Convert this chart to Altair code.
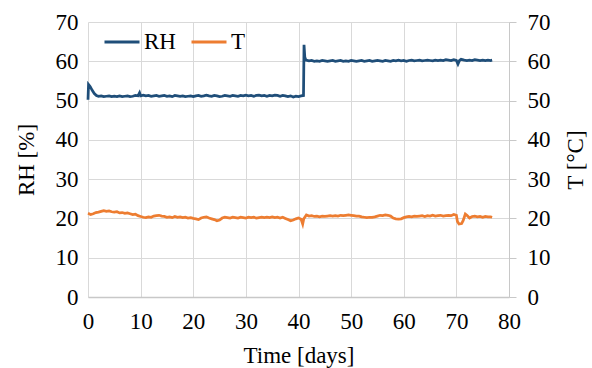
import altair as alt
import pandas as pd

rh_days = [0, 0.1, 0.4, 0.8, 1.2, 1.6, 2.0, 2.5, 3.0, 3.5, 4.0, 4.5, 5.0, 5.5, 6.0, 6.5, 7.0, 7.5, 8.0, 8.5,
           9.0, 9.5, 9.8, 10.0, 10.5, 11, 11.5, 12, 12.5, 13, 13.5, 14, 14.5, 15, 15.5, 16, 16.5, 17, 17.5, 18,
           18.5, 19, 19.5, 20, 20.5, 21, 21.5, 22, 22.5, 23, 23.5, 24, 24.5, 25, 25.5, 26, 26.5, 27, 27.5, 28,
           28.5, 29, 29.5, 30, 30.5, 31, 31.5, 32, 32.5, 33, 33.5, 34, 34.5, 35, 35.5, 36, 36.5, 37, 37.5, 38,
           38.5, 39, 39.5, 40, 40.5, 40.95, 41.05, 41.2, 41.4, 42, 42.5, 43, 43.5, 44, 44.5, 45, 45.5, 46, 46.5,
           47, 47.5, 48, 48.5, 49, 49.5, 50, 50.5, 51, 51.5, 52, 52.5, 53, 53.5, 54, 54.5, 55, 55.5, 56, 56.5,
           57, 57.5, 58, 58.5, 59, 59.5, 60, 60.5, 61, 61.5, 62, 62.5, 63, 63.5, 64, 64.5, 65, 65.5, 66, 66.5,
           67, 67.5, 68, 68.5, 69, 69.5, 70, 70.3, 70.6, 70.9, 71.5, 72, 72.5, 73, 73.5, 74, 74.5, 75, 75.5,
           76, 76.5, 76.8]
rh_vals = [50.2, 54.1, 53.6, 52.6, 51.8, 51.3, 51.1, 51.2, 51.0, 51.1, 51.2, 51.0, 51.1, 51.0, 51.2, 51.0, 51.1, 51.2, 51.0, 51.1,
           51.3, 51.2, 52.0, 51.2, 51.4, 51.2, 51.3, 51.1, 51.2, 51.3, 51.1, 51.2, 51.3, 51.1, 51.2, 51.0, 51.3, 51.2, 51.1, 51.2,
           51.0, 51.1, 51.2, 51.0, 51.2, 51.3, 51.1, 51.2, 51.4, 51.2, 51.1, 51.3, 51.2, 51.0, 51.1, 51.3, 51.2, 51.1, 51.3, 51.2,
           51.1, 51.3, 51.2, 51.4, 51.2, 51.3, 51.1, 51.3, 51.4, 51.2, 51.3, 51.1, 51.3, 51.2, 51.4, 51.3, 51.1, 51.3, 51.2, 51.0,
           51.2, 50.9, 51.1, 51.0, 51.2, 51.3, 64.2, 61.0, 60.3, 60.1, 60.2, 60.0, 60.1, 60.0, 60.2, 60.1, 60.0, 60.1, 60.2,
           60.0, 60.1, 60.2, 60.0, 60.1, 60.0, 60.2, 60.1, 60.0, 60.1, 60.2, 60.0, 60.1, 60.2, 60.0, 60.1, 60.2, 60.1, 60.0, 60.2,
           60.1, 60.0, 60.2, 60.1, 60.3, 60.1, 60.2, 60.0, 60.2, 60.3, 60.1, 60.2, 60.3, 60.1, 60.2, 60.3, 60.2, 60.1, 60.3, 60.2,
           60.3, 60.2, 60.4, 60.3, 60.2, 60.4, 60.2, 59.3, 60.2, 60.5, 60.3, 60.2, 60.3, 60.2, 60.4, 60.3, 60.2, 60.3, 60.2,
           60.3, 60.2, 60.3]

t_days = [0, 0.5, 1, 1.5, 2, 2.5, 3, 3.5, 4, 4.5, 5, 5.5, 6, 6.5, 7, 7.5, 8, 8.5, 9, 9.5, 10, 10.5, 11, 11.5, 12,
          12.5, 13, 13.5, 14, 14.5, 15, 15.5, 16, 16.5, 17, 17.5, 18, 18.5, 19, 19.5, 20, 20.5, 21, 21.5, 22, 22.5,
          23, 23.5, 24, 24.5, 25, 25.5, 26, 26.5, 27, 27.5, 28, 28.5, 29, 29.5, 30, 30.5, 31, 31.5, 32, 32.5, 33,
          33.5, 34, 34.5, 35, 35.5, 36, 36.5, 37, 37.5, 38, 38.5, 39, 39.5, 40, 40.5, 40.8, 41.0, 41.5, 42, 42.5,
          43, 43.5, 44, 44.5, 45, 45.5, 46, 46.5, 47, 47.5, 48, 48.5, 49, 49.5, 50, 50.5, 51, 51.5, 52, 52.5, 53,
          53.5, 54, 54.5, 55, 55.5, 56, 56.5, 57, 57.5, 58, 58.5, 59, 59.5, 60, 60.5, 61, 61.5, 62, 62.5, 63, 63.5,
          64, 64.5, 65, 65.5, 66, 66.5, 67, 67.5, 68, 68.5, 69, 69.5, 70, 70.2, 70.5, 71, 71.3, 71.7, 72, 72.5, 73,
          73.5, 74, 74.5, 75, 75.5, 76, 76.5, 76.8]
t_vals = [21.3, 21.0, 21.2, 21.5, 21.6, 21.8, 22.0, 21.8, 21.9, 21.7, 21.6, 21.7, 21.4, 21.5, 21.3, 21.4, 21.2, 21.0, 21.1, 20.7, 20.5, 20.3, 20.2, 20.4, 20.3,
          20.6, 20.7, 20.8, 20.6, 20.5, 20.3, 20.4, 20.2, 20.5, 20.3, 20.4, 20.2, 20.3, 20.1, 20.2, 20.0, 19.9, 19.7, 20.1, 20.3, 20.4,
          20.1, 19.9, 19.7, 19.4, 19.6, 20.1, 20.3, 20.2, 20.1, 20.3, 20.2, 20.1, 20.3, 20.2, 20.1, 20.3, 20.2, 20.3, 20.1, 20.2, 20.3,
          20.2, 20.3, 20.2, 20.4, 20.2, 20.3, 20.1, 20.3, 20.0, 19.7, 19.4, 19.6, 19.9, 20.1, 19.8, 18.6, 19.9, 20.9, 20.6, 20.7,
          20.5, 20.6, 20.4, 20.6, 20.5, 20.6, 20.7, 20.6, 20.7, 20.6, 20.8, 20.7, 20.8, 20.9, 20.8, 20.7, 20.6, 20.6, 20.4, 20.3, 20.2,
          20.3, 20.3, 20.4, 20.6, 20.8, 20.7, 20.9, 20.8, 20.6, 20.1, 19.9, 19.8, 19.9, 20.2, 20.4, 20.5, 20.4, 20.6, 20.5, 20.6, 20.7,
          20.5, 20.7, 20.6, 20.8, 20.6, 20.7, 20.8, 20.6, 20.7, 20.8, 20.7, 21.0, 20.8, 19.2, 18.6, 18.7, 19.5, 21.1, 20.8, 20.1, 20.5,
          20.6, 20.4, 20.5, 20.3, 20.5, 20.4, 20.4, 20.3]

series_names = ["RH", "T"]
series_colors = ["#1f4e79", "#ed7d31"]

rh_df = pd.DataFrame({"day": rh_days, "val": rh_vals})
t_df = pd.DataFrame({"day": t_days, "val": t_vals})

FONT = "Liberation Serif"
FS = 23
TXT = "#000000"

xenc = alt.X("day:Q", scale=alt.Scale(domain=[0, 80]),
             axis=alt.Axis(title="Time [days]", values=list(range(0, 81, 10)), grid=True,
                           gridColor="#d9d9d9", ticks=False, domainColor="#c8c8c8", domainWidth=1.5,
                           labelPadding=13, labelFlush=False, titleX=210.5, titleY=58, titleAlign="center",
                           titleBaseline="middle", labelFont=FONT, labelFontSize=FS, labelColor=TXT,
                           titleFont=FONT, titleFontSize=FS, titleColor=TXT, titleFontWeight="normal"))
color_scale = alt.Scale(domain=series_names, range=series_colors)

rh_line = alt.Chart(rh_df).mark_line(strokeWidth=2.75).encode(
    x=xenc,
    y=alt.Y("val:Q", scale=alt.Scale(domain=[0, 70]),
            axis=alt.Axis(title="RH [%]", values=list(range(0, 71, 10)), grid=True, gridColor="#d9d9d9",
                          ticks=False, domain=False, labelPadding=10, labelFlush=False,
                          titleX=-62, titleY=137.5, titleAngle=270, titleAlign="center",
                          titleBaseline="middle", labelColor=TXT, titleColor=TXT, titleFontWeight="normal",
                          labelFont=FONT, labelFontSize=FS, titleFont=FONT, titleFontSize=FS)),
    color=alt.Color("s:N", scale=color_scale,
                    legend=alt.Legend(title=None, orient="none", legendX=15, legendY=1, padding=0,
                                      direction="horizontal", symbolType="stroke", symbolSize=1225,
                                      symbolStrokeWidth=3, labelFontSize=FS, labelFont=FONT,
                                      labelColor=TXT, columnPadding=9, labelOffset=3)),
).transform_calculate(s="'RH'")

t_line = alt.Chart(t_df).mark_line(strokeWidth=2.75).encode(
    x=xenc,
    y=alt.Y("val:Q", scale=alt.Scale(domain=[0, 70]),
            axis=alt.Axis(title="T [°C]", orient="right", values=list(range(0, 71, 10)), grid=False,
                          ticks=True, tickColor="#c8c8c8", tickSize=7, domainColor="#c8c8c8",
                          labelPadding=11, labelFlush=False,
                          titleX=66, titleY=137.5, titleAngle=270, titleAlign="center",
                          titleBaseline="middle", labelColor=TXT, titleColor=TXT, titleFontWeight="normal",
                          labelFont=FONT, labelFontSize=FS, titleFont=FONT, titleFontSize=FS)),
    color=alt.Color("s:N", scale=color_scale),
).transform_calculate(s="'T'")

chart = alt.layer(rh_line, t_line).resolve_scale(y="independent").properties(
    width=421, height=275,
    autosize=alt.AutoSizeParams(type="none"),
    padding={"left": 88, "top": 22, "right": 83, "bottom": 71},
).configure_view(stroke=None)

chart.save("out.html", embed_options={"renderer": "svg", "actions": False})
